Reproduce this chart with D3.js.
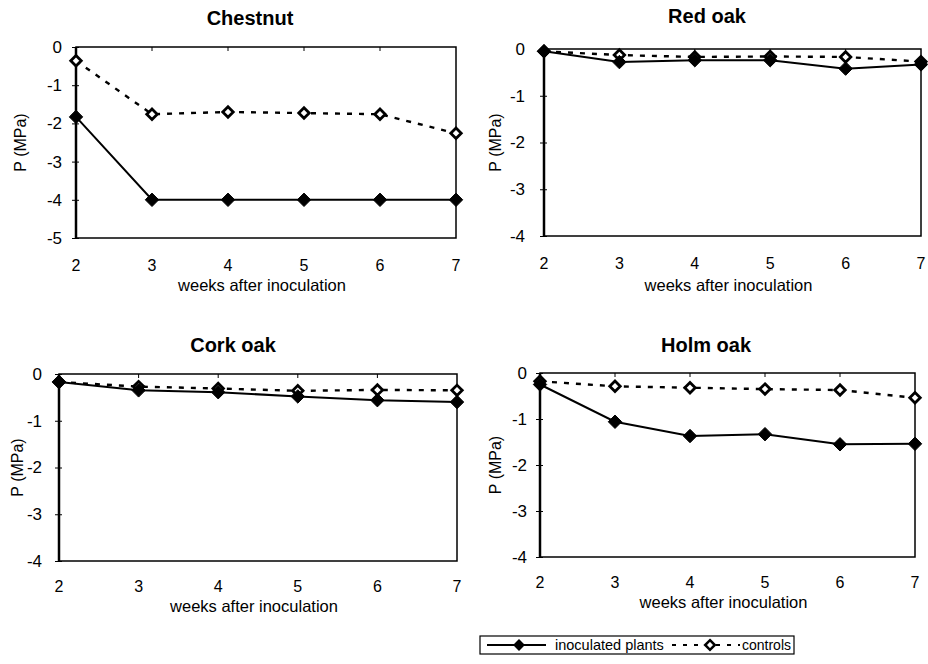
<!DOCTYPE html>
<html lang="en">
<head>
  <meta charset="UTF-8">
  <title>P (MPa) panels</title>
  <script src="https://cdn.jsdelivr.net/npm/d3@7"></script>
  <style>
    body { margin: 0; background: #fff; }
    text { font-family: "Liberation Sans", Arial, sans-serif; fill: #000; }
  </style>
</head>
<body>
  <svg width="928" height="664"></svg>
  <script>
    var weeks = [2, 3, 4, 5, 6, 7]

    var chestnutInoc = [-1.83, -4.0, -4.0, -4.0, -4.0, -4.0]
    var chestnutCtrl = [-0.36, -1.76, -1.7, -1.73, -1.76, -2.26]
    var redOakInoc = [-0.05, -0.28, -0.24, -0.24, -0.42, -0.33]
    var redOakCtrl = [-0.05, -0.13, -0.17, -0.16, -0.17, -0.27]
    var corkOakInoc = [-0.17, -0.35, -0.39, -0.48, -0.56, -0.6]
    var corkOakCtrl = [-0.17, -0.27, -0.31, -0.36, -0.34, -0.35]
    var holmOakInoc = [-0.25, -1.06, -1.37, -1.33, -1.55, -1.54]
    var holmOakCtrl = [-0.18, -0.29, -0.32, -0.35, -0.37, -0.54]

    var titles = ['Chestnut', 'Red oak', 'Cork oak', 'Holm oak']
    var yMins = [-5, -4, -4, -4]
    var seriesNames = ['inoculated plants', 'controls']

    // layout of each panel (pixels)
    var panels = [
      { x0: 76, x1: 456, y0: 47, y1: 238, tx: 250, ty: 25, lx: 20, pad: 10, tickY: 271, labY: 291, inoc: chestnutInoc, ctrl: chestnutCtrl },
      { x0: 544, x1: 921, y0: 49, y1: 236, tx: 707, ty: 23, lx: 495, pad: 15, tickY: 269, labY: 291, inoc: redOakInoc, ctrl: redOakCtrl },
      { x0: 59, x1: 457, y0: 374, y1: 561, tx: 233, ty: 352, lx: 17, pad: 13, tickY: 592, labY: 612, inoc: corkOakInoc, ctrl: corkOakCtrl },
      { x0: 540, x1: 915, y0: 373, y1: 557, tx: 706, ty: 352, lx: 495, pad: 9, tickY: 588, labY: 608, inoc: holmOakInoc, ctrl: holmOakCtrl }
    ]

    var svg = d3.select('svg')
    var diamond = d3.symbol().type(d3.symbolDiamond2)

    panels.forEach(function (p, i) {
      var x = d3.scaleLinear().domain([2, 7]).range([p.x0, p.x1])
      var y = d3.scaleLinear().domain([yMins[i], 0]).range([p.y1, p.y0])
      var g = svg.append('g')

      g.append('text')
        .attr('x', p.tx).attr('y', p.ty)
        .attr('text-anchor', 'middle')
        .attr('font-size', 20).attr('font-weight', 'bold')
        .text(titles[i])

      // frame
      g.append('rect')
        .attr('x', p.x0).attr('y', p.y0)
        .attr('width', p.x1 - p.x0).attr('height', p.y1 - p.y0)
        .attr('fill', 'none').attr('stroke', '#000').attr('stroke-width', 1.5)
      g.append('line')
        .attr('x1', p.x0).attr('x2', p.x0).attr('y1', p.y0).attr('y2', p.y1)
        .attr('stroke', '#000').attr('stroke-width', 2.5)

      // y axis, plain hyphen for the minus sign
      var yAxis = d3.axisLeft(y).ticks(-yMins[i]).tickSize(4).tickPadding(p.pad).tickFormat(d => String(d))
      var ya = g.append('g').attr('transform', 'translate(' + p.x0 + ',0)').call(yAxis)
      ya.select('.domain').remove()
      ya.selectAll('.tick line').attr('x2', -4).attr('x1', 3)
      ya.selectAll('text').attr('font-size', 17).attr('font-family', '"Liberation Sans", Arial, sans-serif')

      // x ticks hanging from the zero line
      g.append('g').selectAll('line')
        .data(weeks.slice(1, -1))
        .enter().append('line')
        .attr('x1', d => x(d)).attr('x2', d => x(d))
        .attr('y1', p.y0).attr('y2', p.y0 + 4)
        .attr('stroke', '#000')

      g.append('g').selectAll('text')
        .data(weeks)
        .enter().append('text')
        .attr('x', d => x(d)).attr('y', p.tickY)
        .attr('text-anchor', 'middle').attr('font-size', 16)
        .text(d => d)

      g.append('text')
        .attr('x', (p.x0 + p.x1) / 2 - 4).attr('y', p.labY)
        .attr('text-anchor', 'middle').attr('font-size', 16.5)
        .text('weeks after inoculation')

      g.append('text')
        .attr('transform', 'translate(' + p.lx + ',' + (p.y0 + p.y1) / 2 + ') rotate(-90)')
        .attr('text-anchor', 'middle').attr('dy', '0.35em').attr('font-size', 16)
        .text('P (MPa)')

      var line = d3.line().x((d, k) => x(weeks[k])).y(d => y(d))

      g.append('path').datum(p.ctrl)
        .attr('d', line).attr('fill', 'none')
        .attr('stroke', '#000').attr('stroke-width', 2.4).attr('stroke-dasharray', '5,7')
      g.append('path').datum(p.inoc)
        .attr('d', line).attr('fill', 'none')
        .attr('stroke', '#000').attr('stroke-width', 2)

      g.append('g').selectAll('path')
        .data(p.ctrl)
        .enter().append('path')
        .attr('d', diamond.size(70))
        .attr('transform', (d, k) => 'translate(' + x(weeks[k]) + ',' + y(d) + ')')
        .attr('fill', '#fff').attr('stroke', '#000').attr('stroke-width', 2.8)
      g.append('g').selectAll('path')
        .data(p.inoc)
        .enter().append('path')
        .attr('d', diamond.size(115))
        .attr('transform', (d, k) => 'translate(' + x(weeks[k]) + ',' + y(d) + ')')
        .attr('fill', '#000').attr('stroke', '#000').attr('stroke-width', 1)
    })

    // legend
    var lg = svg.append('g')
    lg.append('rect')
      .attr('x', 480).attr('y', 636).attr('width', 314).attr('height', 18)
      .attr('fill', 'none').attr('stroke', '#000').attr('stroke-width', 1.2)
    lg.append('line')
      .attr('x1', 487).attr('x2', 546).attr('y1', 645).attr('y2', 645)
      .attr('stroke', '#000').attr('stroke-width', 2)
    lg.append('path').attr('d', diamond.size(90))
      .attr('transform', 'translate(519,645)').attr('fill', '#000')
    lg.append('text').attr('x', 555).attr('y', 650).attr('font-size', 14.5).text(seriesNames[0])
    lg.append('line')
      .attr('x1', 672).attr('x2', 740).attr('y1', 645).attr('y2', 645)
      .attr('stroke', '#000').attr('stroke-width', 2).attr('stroke-dasharray', '4,7')
    lg.append('path').attr('d', diamond.size(60))
      .attr('transform', 'translate(710,645)').attr('fill', '#fff').attr('stroke', '#000').attr('stroke-width', 2.5)
    lg.append('text').attr('x', 742).attr('y', 650).attr('font-size', 14).text(seriesNames[1])
  </script>
</body>
</html>
